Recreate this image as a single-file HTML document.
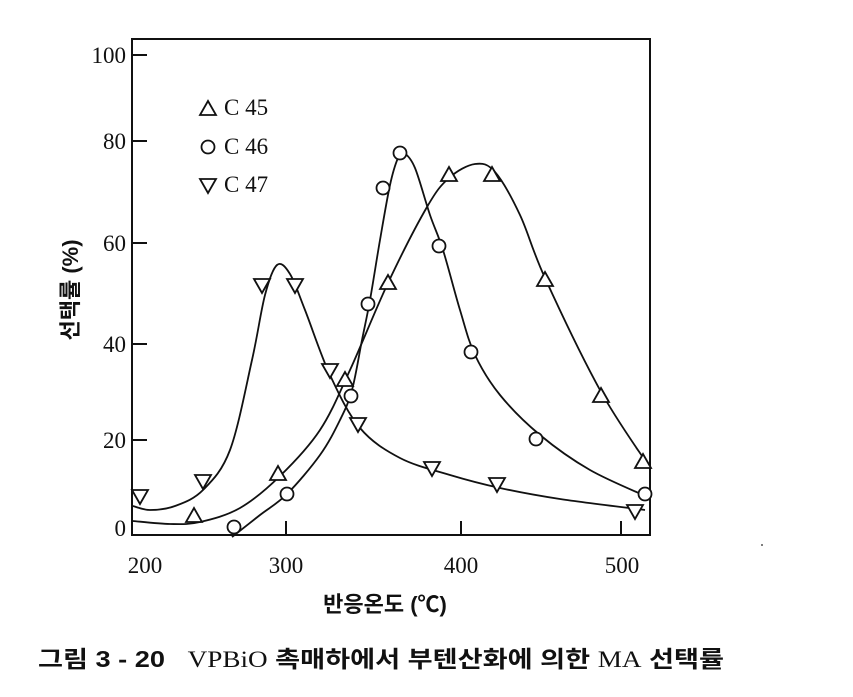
<!DOCTYPE html>
<html><head><meta charset="utf-8">
<style>
html,body{margin:0;padding:0;background:#fff;}
svg{display:block;}
.t{font-family:"Liberation Serif","Noto Serif CJK SC",serif;font-size:23px;fill:#111;}
.k{font-family:"Liberation Sans","Noto Sans CJK KR",sans-serif;fill:#111;font-weight:bold;}
</style></head>
<body>
<svg id="s" width="853" height="697" viewBox="0 0 853 697" xmlns="http://www.w3.org/2000/svg">
<rect x="132" y="39" width="518" height="496" fill="none" stroke="#111" stroke-width="2"/>
<g stroke="#111" stroke-width="2">
<line x1="132" y1="55" x2="147" y2="55"/>
<line x1="132" y1="141" x2="147" y2="141"/>
<line x1="132" y1="243" x2="147" y2="243"/>
<line x1="132" y1="344" x2="147" y2="344"/>
<line x1="132" y1="440" x2="147" y2="440"/>
<line x1="286" y1="535" x2="286" y2="521"/>
<line x1="461" y1="535" x2="461" y2="521"/>
<line x1="621" y1="535" x2="621" y2="521"/>
</g>
<g class="t" text-anchor="end">
<text x="126" y="63">100</text>
<text x="126" y="149">80</text>
<text x="126" y="251">60</text>
<text x="126" y="352">40</text>
<text x="126" y="448">20</text>
<text x="126" y="536">0</text>
</g>
<g class="t" text-anchor="middle">
<text x="145" y="573">200</text>
<text x="286" y="573">300</text>
<text x="461" y="573">400</text>
<text x="622" y="573">500</text>
</g>
<text class="k" x="385" y="612" text-anchor="middle" font-size="22">반응온도 (℃)</text>
<text class="k" transform="translate(78,290) rotate(-90)" text-anchor="middle" font-size="22">선택률 (%)</text>
<text class="k" x="38" y="667" font-size="23" textLength="686" lengthAdjust="spacingAndGlyphs">그림 3 - 20&#160;&#160; <tspan font-family="Liberation Serif" font-weight="normal">VPBiO</tspan> 촉매하에서 부텐산화에 의한 <tspan font-family="Liberation Serif" font-weight="normal">MA</tspan> 선택률</text>
<circle cx="762" cy="545" r="1" fill="#555"/>
<g class="t" font-size="20">
<text x="224" y="115">C 45</text>
<text x="224" y="154">C 46</text>
<text x="224" y="192">C 47</text>
</g>
<g id="curves" fill="none" stroke="#111" stroke-width="1.8"></g>
<g id="marks" fill="#fff" stroke="#111" stroke-width="1.8"></g>
</svg>
<script>
function cr(p){var d="M"+p[0][0]+","+p[0][1];for(var i=0;i<p.length-1;i++){var a=p[i-1]||p[i],b=p[i],c=p[i+1],e=p[i+2]||c;d+=" C"+(b[0]+(c[0]-a[0])/6)+","+(b[1]+(c[1]-a[1])/6)+" "+(c[0]-(e[0]-b[0])/6)+","+(c[1]-(e[1]-b[1])/6)+" "+c[0]+","+c[1];}return d;}
var NS="http://www.w3.org/2000/svg";
var curves=[
[[133,506],[150,510],[175,506],[203,490],[230,450],[252,360],[265,295],[277,265],[290,274],[305,310],[330,375],[360,428],[400,458],[450,475],[500,488],[560,499],[645,510]],
[[232,537],[260,515],[287,494],[320,455],[340,420],[352,390],[362,340],[370,300],[380,240],[390,185],[398,158],[404,153],[415,168],[430,215],[443,250],[460,310],[475,355],[500,395],[540,435],[590,470],[650,498]],
[[133,521],[170,524],[200,522],[240,508],[280,476],[320,430],[350,370],[388,283],[427,207],[449,178],[475,164],[495,172],[520,215],[545,278],[600,390],[648,465]]
];
var g=document.getElementById("curves");
curves.forEach(function(c){var p=document.createElementNS(NS,"path");p.setAttribute("d",cr(c));g.appendChild(p);});
var m=document.getElementById("marks");
function tri(x,y,up){var s=8,p=document.createElementNS(NS,"polygon");
 p.setAttribute("points",up?(x-s)+","+(y+6)+" "+(x+s)+","+(y+6)+" "+x+","+(y-8):(x-s)+","+(y-6)+" "+(x+s)+","+(y-6)+" "+x+","+(y+8));m.appendChild(p);}
function cir(x,y){var c=document.createElementNS(NS,"circle");c.setAttribute("cx",x);c.setAttribute("cy",y);c.setAttribute("r",6.5);m.appendChild(c);}
[[194,516],[278,474],[345,380],[388,283],[449,175],[492,175],[545,280],[601,396],[643,462]].forEach(function(a){tri(a[0],a[1],1);});
[[234,527],[287,494],[351,396],[368,304],[383,188],[400,153],[439,246],[471,352],[536,439],[645,494]].forEach(function(a){cir(a[0],a[1]);});
[[140,496],[203,481],[262,285],[295,285],[330,370],[358,424],[432,468],[497,484],[635,511]].forEach(function(a){tri(a[0],a[1],0);});
tri(208,109,1);cir(208,147);tri(208,185,0);
</script>
</body></html>
